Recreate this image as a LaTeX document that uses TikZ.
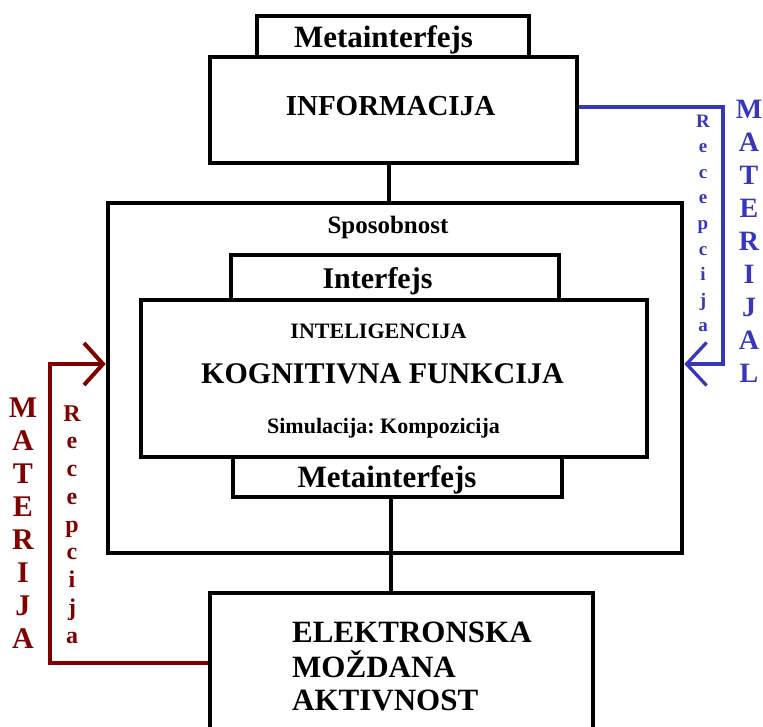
\documentclass[tikz,border=0pt]{standalone}
\usepackage{fontspec}
\setmainfont{Liberation Serif}
\usetikzlibrary{arrows.meta}
\definecolor{matblue}{RGB}{55,55,190}
\definecolor{matred}{RGB}{128,0,0}
\newcommand\fsz[1]{\fontsize{#1}{#1}\selectfont\bfseries\frenchspacing}
\begin{document}
\begin{tikzpicture}[x=1pt,y=-1pt,
  box/.style={draw=black, line width=4.6pt, fill=white, inner sep=0pt},
  txt/.style={inner sep=0pt, anchor=base},
  big/.style={txt, font=\fsz{30}},
  bigger/.style={txt, font=\fsz{31}},
  mid/.style={txt, font=\fsz{25}},
  small/.style={txt, font=\fsz{22}},
  link/.style={line width=4.6pt},
  bluelink/.style={draw=matblue, line width=3.3pt, -{Straight Barb[length=20pt,width=43pt]}},
  redlink/.style={draw=matred, line width=4pt, -{Straight Barb[length=19pt,width=42pt]}},
  blueletter/.style={txt, text=matblue, font=\fsz{28}},
  bluesmall/.style={txt, text=matblue, font=\fsz{19}},
  redletter/.style={txt, text=matred, font=\fsz{30}},
  redsmall/.style={txt, text=matred, font=\fsz{24}}]
\useasboundingbox (0,0) rectangle (763,726);
\clip (0,0) rectangle (763,726);
\fill[white] (0,0) rectangle (763,726);

% top part
\node[box, minimum width=272, minimum height=41] (meta1) at (393,36.5) {};
\node[box, minimum width=367, minimum height=106] (info) at (393.5,110) {};
\node[bigger] (meta1t) at (383.5,47) {Metainterfejs};
\node[txt, font=\fsz{29}] (infot) at (390.5,115) {INFORMACIJA};

% outer box
\node[box, minimum width=574, minimum height=350] (outer) at (395,378) {};
\node[mid] (spos) at (388,233) {Sposobnost};

% inner boxes
\node[box, minimum width=328, minimum height=45] (intf) at (395,277.5) {};
\node[box, minimum width=329, minimum height=40] (meta2) at (397.5,477) {};
\node[box, minimum width=506, minimum height=157] (cog) at (394,378.5) {};
\node[big] (intft) at (377.5,288) {Interfejs};
\node[small] (intel) at (378.5,338) {INTELIGENCIJA};
\node[big] (kogn) at (382.5,383) {KOGNITIVNA FUNKCIJA};
\node[small] (simul) at (383.5,433) {Simulacija: Kompozicija};
\node[bigger] (meta2t) at (387,487) {Metainterfejs};

% bottom box
\node[box, minimum width=383, minimum height=167] (elek) at (401.5,676.5) {};
\node[bigger, anchor=base west] (elek1) at (292,642) {ELEKTRONSKA};
\node[bigger, anchor=base west] (elek2) at (292,677) {MOŽDANA};
\node[bigger, anchor=base west] (elek3) at (292,710) {AKTIVNOST};

% black links
\coordinate (lk1) at (389,0);
\coordinate (lk2) at (391,0);
\draw[link] (info.south -| lk1) -- (outer.north -| lk1);
\draw[link] (meta2.south -| lk2) -- (elek.north -| lk2);

% blue connector
\coordinate (bc1) at (723,107);
\coordinate (bc2) at (723,364);
\draw[bluelink] (info.east |- bc1) -- (bc1) -- (bc2) -- (outer.east |- bc2);
\foreach \l [count=\i] in {M,A,T,E,R,I,J,A,L}
  \node[blueletter] (bm\i) at (749,{118+33.1*(\i-1)}) {\l};
\foreach \l [count=\i] in {R,e,c,e,p,c,i,j,a}
  \node[bluesmall] (br\i) at (703,{127+25.6*(\i-1)}) {\l};

% red connector
\coordinate (rc1) at (50,663);
\coordinate (rc2) at (50,364);
\draw[redlink] (elek.west |- rc1) -- (rc1) -- (rc2) -- (outer.west |- rc2);
\foreach \l [count=\i] in {M,A,T,E,R,I,J,A}
  \node[redletter] (rm\i) at (23,{417+33*(\i-1)}) {\l};
\foreach \l [count=\i] in {R,e,c,e,p,c,i,j,a}
  \node[redsmall] (rr\i) at (72,{421+27.75*(\i-1)}) {\l};
\end{tikzpicture}
\end{document}
